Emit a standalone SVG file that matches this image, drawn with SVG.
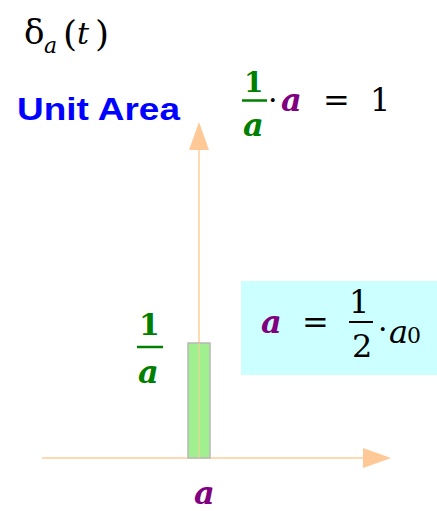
<svg xmlns="http://www.w3.org/2000/svg" width="437" height="511" viewBox="0 0 437 511">
<style>
text{font-family:'DejaVu Serif',serif}
.m{fill:#000}
.g{font-weight:bold;font-style:italic;fill:#008000}
.gb{font-weight:bold;fill:#008000}
.p{font-weight:bold;font-style:italic;fill:#800080}
.ax{stroke:#ffcc99;stroke-width:1.5;fill:none}
</style>
<defs>
<marker id="ah" viewBox="0 0 28 20" refX="0" refY="10" markerWidth="28" markerHeight="20" markerUnits="userSpaceOnUse" orient="auto">
<path d="M0,0 L28,10 L0,20 Z" fill="#ffc897"/>
</marker>
</defs>
<g id="infobox">
<rect x="241" y="281" width="196" height="94" fill="#ccffff"/>
<text class="p" x="261" y="333" font-size="32">a</text>
<text class="m" x="302" y="333" font-size="32">=</text>
<text class="m" x="349" y="313" font-size="32">1</text>
<line x1="349" y1="322" x2="373" y2="322" stroke="#000" stroke-width="2"/>
<text class="m" x="352" y="357" font-size="32">2</text>
<text class="m" x="378" y="339" font-size="30">·</text>
<text class="m" x="389" y="343" font-size="32" font-style="italic">a</text>
<text class="m" x="407" y="343" font-size="22">0</text>
</g>
<g id="connectors">
<line class="ax" x1="42" y1="458" x2="363" y2="458" marker-end="url(#ah)"/>
<line class="ax" x1="199" y1="458" x2="199" y2="150" marker-end="url(#ah)"/>
</g>
<g id="pulse">
<rect x="188" y="343" width="22" height="115" fill="#a0f090" stroke="#b8b8b8" stroke-width="1.5"/>
<line x1="199" y1="343" x2="199" y2="458" stroke="#ffcc99" stroke-width="1"/>
</g>
<g id="title">
<text class="m" x="24" y="44" font-size="34">δ</text>
<text class="m" x="44" y="53" font-size="22" font-style="italic">a</text>
<text class="m" x="63" y="46" font-size="36">(</text>
<text class="m" x="77" y="44" font-size="30" font-style="italic">t</text>
<text class="m" x="95" y="46" font-size="36">)</text>
</g>
<g id="unitarea">
<text x="17" y="120" style="font-family:'Liberation Sans',Arial,sans-serif" font-weight="bold" font-size="32" fill="#0000ff" textLength="163" lengthAdjust="spacingAndGlyphs">Unit Area</text>
</g>
<g id="areaformula">
<text class="gb" x="244" y="92" font-size="28">1</text>
<line x1="242" y1="100.5" x2="267" y2="100.5" stroke="#008000" stroke-width="2.5"/>
<text class="g" x="243" y="136" font-size="32">a</text>
<text class="m" x="268" y="110" font-size="30">·</text>
<text class="p" x="281" y="111" font-size="32">a</text>
<text class="m" x="323" y="111" font-size="32">=</text>
<text class="m" x="370" y="111" font-size="32">1</text>
</g>
<g id="heightlabel">
<text class="gb" x="139" y="335" font-size="30">1</text>
<line x1="137" y1="347" x2="163" y2="347" stroke="#008000" stroke-width="2.5"/>
<text class="g" x="138" y="383" font-size="32">a</text>
</g>
<g id="xlabel">
<text class="p" x="194" y="504" font-size="32">a</text>
</g>
</svg>
